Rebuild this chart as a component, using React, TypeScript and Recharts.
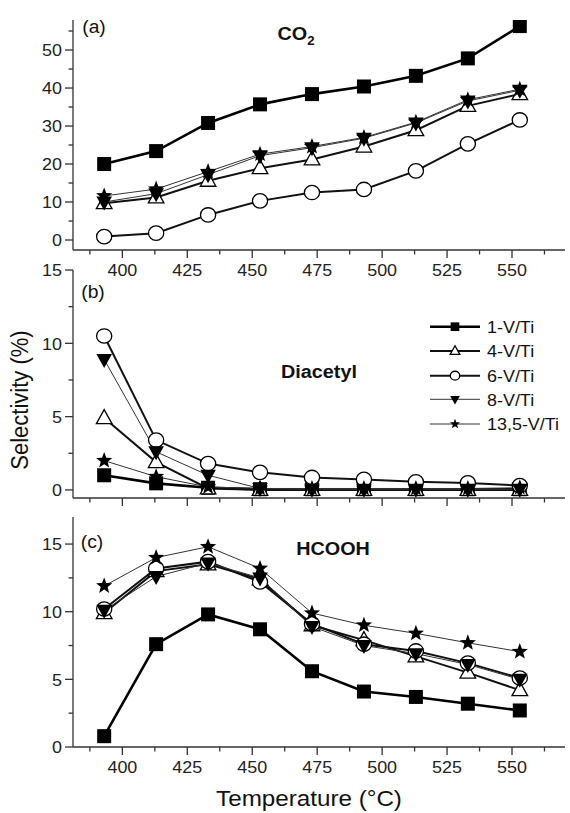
import React from 'react';
import { LineChart, Line, XAxis, YAxis } from 'recharts';

// ---- data ----
const temperatures = [393, 413, 433, 453, 473, 493, 513, 533, 553];
const seriesNames = ['1-V/Ti', '4-V/Ti', '6-V/Ti', '8-V/Ti', '13,5-V/Ti'];

// (a) CO2 selectivity
const co2_1 = [20.0, 23.4, 30.8, 35.7, 38.4, 40.4, 43.2, 47.8, 56.3];
const co2_4 = [9.7, 11.2, 15.6, 18.9, 21.2, 24.6, 28.9, 35.3, 38.4];
const co2_6 = [0.9, 1.8, 6.6, 10.3, 12.5, 13.3, 18.2, 25.3, 31.6];
const co2_8 = [10.0, 12.2, 17.2, 22.2, 24.3, 26.8, 30.8, 36.6, 39.4];
const co2_13 = [11.6, 13.4, 18.0, 22.6, 24.6, 27.0, 31.0, 36.9, 39.7];

// (b) Diacetyl selectivity
const dia_1 = [1.0, 0.45, 0.15, 0.05, 0.05, 0.05, 0.05, 0.05, 0.05];
const dia_4 = [4.9, 1.9, 0.1, 0.0, 0.0, 0.0, 0.0, 0.0, 0.0];
const dia_6 = [10.5, 3.4, 1.8, 1.2, 0.85, 0.72, 0.55, 0.48, 0.3];
const dia_8 = [8.9, 2.6, 1.0, 0.1, 0.05, 0.05, 0.05, 0.05, 0.05];
const dia_13 = [2.0, 0.9, 0.2, 0.1, 0.1, 0.1, 0.1, 0.1, 0.15];

// (c) HCOOH selectivity
const hc_1 = [0.8, 7.6, 9.8, 8.7, 5.6, 4.1, 3.7, 3.2, 2.7];
const hc_4 = [9.9, 13.0, 13.5, 12.4, 9.0, 7.9, 6.7, 5.5, 4.2];
const hc_6 = [10.2, 13.2, 13.7, 12.2, 9.1, 7.6, 7.1, 6.2, 5.1];
const hc_8 = [10.1, 12.6, 13.6, 12.5, 8.9, 7.5, 6.9, 6.1, 5.0];
const hc_13 = [11.9, 14.0, 14.8, 13.2, 9.9, 9.0, 8.4, 7.7, 7.05];

const xTicks = [387.5, 400, 412.5, 425, 437.5, 450, 462.5, 475, 487.5, 500, 512.5, 525, 537.5, 550, 562.5];
const co2Ticks = [0, 5, 10, 15, 20, 25, 30, 35, 40, 45, 50, 55];
const diaTicks = [0, 2.5, 5, 7.5, 10, 12.5, 15];
const hcTicks = [0, 2.5, 5, 7.5, 10, 12.5, 15];

// ---- styling ----
const FONT = '"Liberation Sans", Arial, Helvetica, sans-serif';
const X_DOMAIN: [number, number] = [381, 570.4];
type Shape = 'square' | 'triangle' | 'circle' | 'invtri' | 'star';
const seriesShapes: Shape[] = ['square', 'triangle', 'circle', 'invtri', 'star'];
const seriesWidths = [2.6, 2.0, 2.0, 1.0, 1.0];
const seriesColors = ['#000', '#111', '#111', '#333', '#333'];
const AXIS = { stroke: '#333', strokeWidth: 1.3 };

function buildRows(arrs: number[][]) {
  return temperatures.map((t, i) => {
    const r: any = { t };
    arrs.forEach((a, j) => {
      r['s' + j] = a[i];
    });
    return r;
  });
}

const co2Rows = buildRows([co2_1, co2_4, co2_6, co2_8, co2_13]);
const diaRows = buildRows([dia_1, dia_4, dia_6, dia_8, dia_13]);
const hcRows = buildRows([hc_1, hc_4, hc_6, hc_8, hc_13]);

function starPoints(cx: number, cy: number, R: number, r: number) {
  const pts: string[] = [];
  for (let i = 0; i < 10; i++) {
    const ang = -Math.PI / 2 + (i * Math.PI) / 5;
    const rad = i % 2 === 0 ? R : r;
    pts.push(`${cx + rad * Math.cos(ang)},${cy + rad * Math.sin(ang)}`);
  }
  return pts.join(' ');
}

function Marker({ shape, cx, cy, k = 1 }: { shape: Shape; cx: number; cy: number; k?: number }) {
  if (cx == null || cy == null || isNaN(cx) || isNaN(cy)) return null;
  switch (shape) {
    case 'square': {
      const h = 7 * k;
      return <rect x={cx - h} y={cy - h} width={2 * h} height={2 * h} fill="#000" />;
    }
    case 'triangle': {
      const w = 7.8 * k;
      return (
        <polygon
          points={`${cx},${cy - 8.5 * k} ${cx - w},${cy + 5.5 * k} ${cx + w},${cy + 5.5 * k}`}
          fill="#fff"
          stroke="#000"
          strokeWidth={1.3}
        />
      );
    }
    case 'circle':
      return <ellipse cx={cx} cy={cy} rx={7.6 * k} ry={7.2 * k} fill="#fff" stroke="#000" strokeWidth={1.3} />;
    case 'invtri': {
      const w = 7.8 * k;
      return (
        <polygon
          points={`${cx - w},${cy - 5.5 * k} ${cx + w},${cy - 5.5 * k} ${cx},${cy + 8.5 * k}`}
          fill="#000"
        />
      );
    }
    case 'star':
      return <polygon points={starPoints(cx, cy, 8.5 * k, 3.6 * k)} fill="#000" />;
  }
  return null;
}

function XTick(props: any) {
  const { x, y, payload, showLabels } = props;
  const v = payload.value;
  const major = Math.abs(v % 25) < 1e-6;
  return (
    <g>
      <line x1={x} x2={x} y1={y} y2={y + (major ? 8 : 4.5)} stroke="#333" strokeWidth={1.3} />
      {major && showLabels ? (
        <text
          transform={`translate(${x},${y + 20.5}) scale(1.1,1)`}
          textAnchor="middle"
          dominantBaseline="central"
          fontFamily={FONT}
          fontSize={16.3}
          fill="#222"
        >
          {v}
        </text>
      ) : null}
    </g>
  );
}

function YTick(props: any) {
  const { x, y, payload, majorStep } = props;
  const v = payload.value;
  const major = Math.abs(v % majorStep) < 1e-6;
  return (
    <g>
      <line x1={x - (major ? 8 : 4.5)} x2={x} y1={y} y2={y} stroke="#333" strokeWidth={1.3} />
      {major ? (
        <text
          transform={`translate(${x - 11},${y + 0.5}) scale(1.1,1)`}
          textAnchor="end"
          dominantBaseline="central"
          fontFamily={FONT}
          fontSize={16.3}
          fill="#222"
        >
          {v}
        </text>
      ) : null}
    </g>
  );
}

function Panel(props: {
  top: number;
  height: number;
  marginTop: number;
  xAxisHeight: number;
  domain: [number, number];
  yTicks: number[];
  majorStep: number;
  showXLabels: boolean;
  rows: any[];
}) {
  const { top, height, marginTop, xAxisHeight, domain, yTicks, majorStep, showXLabels, rows } = props;
  return (
    <div style={{ position: 'absolute', left: 0, top, width: 570, height }}>
      <LineChart width={570} height={height} data={rows} margin={{ top: marginTop, right: 5, bottom: 0, left: 0 }}>
        <XAxis
          dataKey="t"
          type="number"
          domain={X_DOMAIN}
          ticks={xTicks}
          interval={0}
          height={xAxisHeight}
          tickLine={false}
          tickSize={0}
          tickMargin={0}
          axisLine={AXIS}
          tick={(p: any) => <XTick {...p} showLabels={showXLabels} />}
          allowDataOverflow
        />
        <YAxis
          type="number"
          domain={domain}
          ticks={yTicks}
          interval={0}
          width={73}
          tickLine={false}
          tickSize={0}
          tickMargin={0}
          axisLine={AXIS}
          tick={(p: any) => <YTick {...p} majorStep={majorStep} />}
          allowDataOverflow
        />
        {seriesNames.map((name, j) => (
          <Line
            key={name}
            name={name}
            dataKey={'s' + j}
            type="linear"
            stroke={seriesColors[j]}
            strokeWidth={seriesWidths[j]}
            isAnimationActive={false}
            dot={(p: any) => (
              <Marker key={`${name}-${p.index}`} shape={seriesShapes[j]} cx={p.cx} cy={p.cy} />
            )}
            activeDot={false}
          />
        ))}
      </LineChart>
    </div>
  );
}

const textBase: React.CSSProperties = {
  position: 'absolute',
  fontFamily: FONT,
  color: '#111',
  whiteSpace: 'nowrap',
  lineHeight: 1,
};

function Txt({ x, y, size, bold, children, rotate }: any) {
  return (
    <div
      style={{
        ...textBase,
        left: x,
        top: y,
        fontSize: size,
        fontWeight: bold ? 'bold' : 'normal',
        transform: rotate
          ? 'translate(-50%,-50%) rotate(-90deg) scaleY(1.1)'
          : 'translate(-50%,-50%) scaleX(1.1)',
      }}
    >
      {children}
    </div>
  );
}

function LegendBox() {
  const rowsY = [326.7, 351, 375.7, 399.3, 424];
  const left = 420;
  const top = 310;
  return (
    <svg style={{ position: 'absolute', left, top }} width={150} height={130}>
      {seriesNames.map((name, j) => {
        const y = rowsY[j] - top;
        return (
          <g key={name}>
            <line x1={10} x2={60} y1={y} y2={y} stroke={seriesColors[j]} strokeWidth={seriesWidths[j]} />
            <Marker shape={seriesShapes[j]} cx={35} cy={y} k={0.62} />
            <text
              transform={`translate(67,${y + 0.5}) scale(1.1,1)`}
              dominantBaseline="central"
              fontFamily={FONT}
              fontSize={16.3}
              fill="#111"
            >
              {name}
            </text>
          </g>
        );
      })}
    </svg>
  );
}

export default function App() {
  return (
    <div style={{ position: 'absolute', left: 0, top: 0, width: 570, height: 813, background: '#fff' }}>
      <Panel
        top={0}
        height={290}
        marginTop={20}
        xAxisHeight={40}
        domain={[-2.63, 57.9]}
        yTicks={co2Ticks}
        majorStep={10}
        showXLabels={true}
        rows={co2Rows}
      />
      <Panel
        top={260}
        height={280}
        marginTop={10}
        xAxisHeight={42}
        domain={[-0.55, 15]}
        yTicks={diaTicks}
        majorStep={5}
        showXLabels={false}
        rows={diaRows}
      />
      <Panel
        top={500}
        height={313}
        marginTop={17}
        xAxisHeight={66}
        domain={[0, 17]}
        yTicks={hcTicks}
        majorStep={5}
        showXLabels={true}
        rows={hcRows}
      />
      <LegendBox />
      <Txt x={94} y={28} size={17.5}>(a)</Txt>
      <Txt x={93} y={293} size={17.5}>(b)</Txt>
      <Txt x={92} y={543} size={17.5}>(c)</Txt>
      <Txt x={296} y={34} size={18} bold>
        CO<span style={{ fontSize: 12, position: 'relative', top: 5 }}>2</span>
      </Txt>
      <Txt x={319} y={372} size={18} bold>Diacetyl</Txt>
      <Txt x={333} y={549} size={18} bold>HCOOH</Txt>
      <Txt x={20} y={400} size={22} rotate>Selectivity (%)</Txt>
      <Txt x={309} y={799} size={22}>Temperature (°C)</Txt>
    </div>
  );
}
